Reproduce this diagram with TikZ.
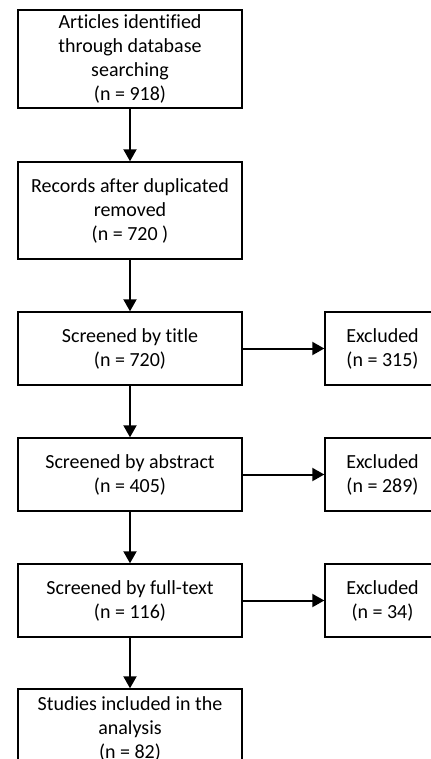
\documentclass[tikz,border=0pt]{standalone}
\usepackage{fontspec}
\setmainfont{Carlito}[Ligatures=CommonOff]
\usetikzlibrary{positioning,arrows.meta}

\begin{document}
\begin{tikzpicture}[x=0.5pt,y=-0.5pt,
  stage/.style={draw,line width=0.7pt,align=center,font=\fontsize{10}{12}\selectfont,minimum width=112pt,inner sep=0pt},
  excl/.style={stage,minimum width=57.5pt,minimum height=36.5pt},
  flow/.style={line width=1pt,-{Triangle[width=6.5pt,length=6pt]}}]
\useasboundingbox (0,0) rectangle (431,759);
\node[stage,minimum height=49pt] (ident) at (130,59) {Articles identified\\through database\\searching\\(n = 918)};
\node[stage,minimum height=48.5pt] (dupl) at (130,210.5) {Records after duplicated\\removed\\(n = 720 )};
\node[stage,minimum height=36.5pt] (title) at (130,348.5) {Screened by title\\(n = 720)};
\node[stage,minimum height=36.5pt] (abstr) at (130,474.5) {Screened by abstract\\(n = 405)};
\node[stage,minimum height=36.5pt] (full) at (130,600.5) {Screened by full-text\\(n = 116)};
\node[stage,minimum height=40pt] (incl) at (130,729) {Studies included in the\\analysis\\(n = 82)};
\node[excl] (extitle) at (382.5,348.5) {Excluded\\(n = 315)};
\node[excl] (exabstr) at (382.5,474.5) {Excluded\\(n = 289)};
\node[excl] (exfull) at (382.5,600.5) {Excluded\\(n = 34)};
\draw[flow] (ident)--(dupl);
\draw[flow] (dupl)--(title);
\draw[flow] (title)--(abstr);
\draw[flow] (abstr)--(full);
\draw[flow] (full)--(incl);
\draw[flow] (title)--(extitle);
\draw[flow] (abstr)--(exabstr);
\draw[flow] (full)--(exfull);
\end{tikzpicture}
\end{document}
